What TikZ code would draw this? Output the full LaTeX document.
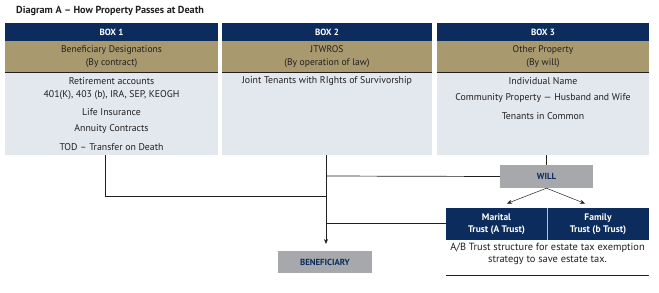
\documentclass[tikz,border=0pt]{standalone}
\usepackage{fontspec}
\setmainfont{PT Sans}
\usetikzlibrary{arrows.meta}
\definecolor{navy}{HTML}{0D2C5E}
\definecolor{tan}{HTML}{A8996E}
\definecolor{bodyc}{HTML}{E2E8EE}
\definecolor{grayc}{HTML}{A6A8AB}
\definecolor{linec}{HTML}{231F20}
\tikzset{
  hdr/.style={fill=navy, text=white, font=\bfseries\fontsize{9}{10}\selectfont, inner sep=0pt},
  sub/.style={fill=tan, text=linec, font=\fontsize{9.6}{13}\selectfont, inner sep=0pt, align=center},
  bodyb/.style={fill=bodyc, inner sep=0pt},
  btxt/.style={text=linec, font=\fontsize{9.8}{11}\selectfont, inner sep=0pt},
  graybox/.style={fill=grayc, text=navy, font=\bfseries\fontsize{8.8}{10}\selectfont, inner sep=0pt},
  conn/.style={draw=linec, line width=0.7pt},
  arr/.style={conn, -{Stealth[length=5pt,width=4pt]}},
}
\begin{document}
\begin{tikzpicture}[x=1pt,y=-1pt]
\useasboundingbox (0,0) rectangle (659,292);
\fill[white] (0,0) rectangle (659,292);
\node[anchor=west, text=linec, font=\bfseries\fontsize{10.2}{11}\selectfont, inner sep=0pt] (title) at (16,11) {Diagram A -- How Property Passes at Death};

% Box 1
\node[hdr, minimum width=213pt, minimum height=18pt] (h1) at (111.5,32) {BOX 1};
\node[sub, minimum width=213pt, minimum height=31pt] (s1) at (111.5,56.5) {Beneficiary Designations\\(By contract)};
\node[bodyb, minimum width=213pt, minimum height=83pt] (b1) at (111.5,113.5) {};
\draw[linec, line width=0.8pt] (s1.south west) -- (s1.south east);
\node[btxt] (t11) at (111.5,81) {Retirement accounts};
\node[btxt] (t12) at (111.5,95) {401(K), 403 (b), IRA, SEP, KEOGH};
\node[btxt] (t13) at (111.5,112) {Life Insurance};
\node[btxt] (t14) at (111.5,129) {Annuity Contracts};
\node[btxt] (t15) at (111.5,147) {TOD -- Transfer on Death};

% Box 2
\node[hdr, minimum width=210pt, minimum height=18pt] (h2) at (327,32) {BOX 2};
\node[sub, minimum width=210pt, minimum height=31pt] (s2) at (327,56.5) {JTWROS\\(By operation of law)};
\node[bodyb, minimum width=210pt, minimum height=83pt] (b2) at (327,113.5) {};
\draw[linec, line width=0.8pt] (s2.south west) -- (s2.south east);
\node[btxt] (t21) at (327,81) {Joint Tenants with RIghts of Survivorship};

% Box 3
\node[hdr, minimum width=212pt, minimum height=18pt] (h3) at (543,32) {BOX 3};
\node[sub, minimum width=212pt, minimum height=31pt] (s3) at (543,56.5) {Other Property\\(By will)};
\node[bodyb, minimum width=212pt, minimum height=83pt] (b3) at (543,113.5) {};
\draw[linec, line width=0.8pt] (s3.south west) -- (s3.south east);
\node[btxt] (t31) at (543,81) {Individual Name};
\node[btxt] (t32) at (543,98) {Community Property --- Husband and Wife};
\node[btxt] (t33) at (543,116) {Tenants in Common};

% Will
\node[graybox, minimum width=93pt, minimum height=23pt] (will) at (546.5,176.5) {WILL};
% Beneficiary
\node[graybox, minimum width=94pt, minimum height=22pt] (ben) at (325,262) {BENEFICIARY};

% Trusts
\node[hdr, minimum width=101pt, minimum height=32pt, align=center, font=\bfseries\fontsize{9.5}{12}\selectfont] (ta) at (496.5,224) {Marital\\Trust (A Trust)};
\node[hdr, minimum width=102pt, minimum height=32pt, align=center, font=\bfseries\fontsize{9.5}{12}\selectfont] (tb) at (598,224) {Family\\Trust (b Trust)};
\draw[white!70!navy, line width=0.4pt] (ta.north east) -- (ta.south east);
\node[btxt, align=center, font=\fontsize{10.4}{11.5}\selectfont] (abtxt) at (547.5,254) {A/B Trust structure for estate tax exemption\\strategy to save estate tax.};
\coordinate (ul1) at (446,275);
\coordinate (ul2) at (649,275);
\draw[conn] (ul1) -- (ul2);

% Connectors
\coordinate (j1) at (105,196);
\coordinate (m1) at (326,196);
\coordinate (m2) at (326,176);
\coordinate (m3) at (326,223);
\coordinate (atip) at (326,244);
\coordinate (wa) at (507,203.5);
\coordinate (wb) at (585,203.5);
\draw[conn] (b1.south -| j1) -- (j1) -- (m1);
\draw[arr] (b2.south -| m1) -- (atip);
\draw[conn] (m2) -- (will.west);
\draw[conn] (m3) -- (ta.west |- m3);
\draw[conn] (b3.south -| will.north) -- (will.north);
\draw[arr, line width=0.5pt] (will.south) -- (wa);
\draw[arr, line width=0.5pt] (will.south) -- (wb);
\end{tikzpicture}
\end{document}
